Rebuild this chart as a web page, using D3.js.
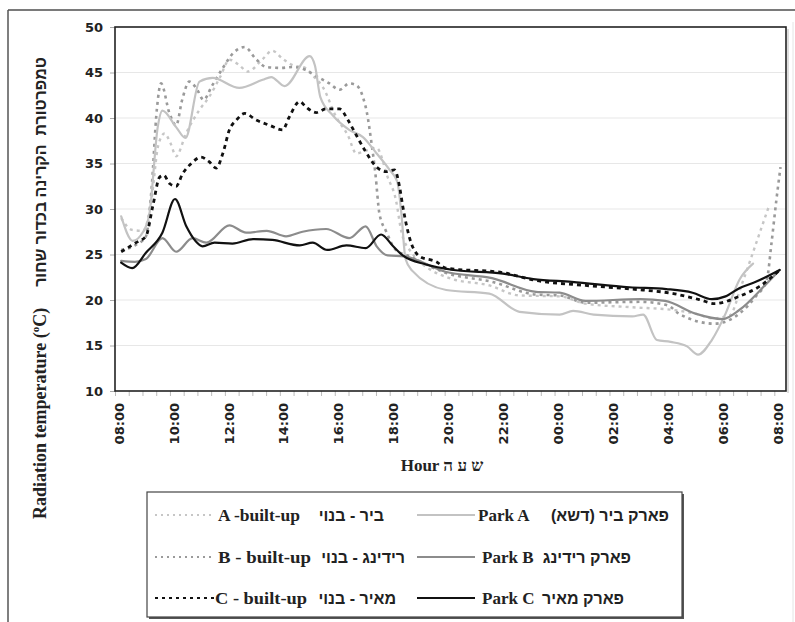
<!DOCTYPE html>
<html>
<head>
<meta charset="utf-8">
<script src="https://cdn.jsdelivr.net/npm/d3@7"></script>
<style>
  html, body { margin: 0; padding: 0; background: #fff; }
  svg { display: block; }
</style>
</head>
<body>
<div id="chart"></div>
<script>
// ---------- DATA ----------
// hours after 08:00 (0 = 08:00, 24 = 08:00 next day), radiation temperature (°C)
const hourTicks  = [0, 2, 4, 6, 8, 10, 12, 14, 16, 18, 20, 22, 24];
const hourLabels = ["08:00","10:00","12:00","14:00","16:00","18:00","20:00","22:00","00:00","02:00","04:00","06:00","08:00"];
const tempTicks  = [10, 15, 20, 25, 30, 35, 40, 45, 50];

const parkA = [[0.1,29.2],[0.52,26.5],[0.9,27.5],[1.13,29.5],[1.43,39.0],[1.6,40.8],[2.1,39.0],[2.44,37.8],[2.95,44.0],[3.43,44.4],[4.4,43.3],[5.25,44.2],[5.56,44.5],[6.05,43.5],[6.96,46.8],[7.15,45.8],[7.35,42.3],[7.8,40.3],[8.4,38.7],[8.9,37.9],[9.4,36.1],[9.87,34.3],[10.15,33.0],[10.3,29.5],[10.45,24.5],[10.7,23.2],[11.93,21.1],[13.5,20.7],[14.6,18.7],[16.06,18.4],[16.55,18.8],[17.3,18.4],[18.7,18.2],[19.1,18.4],[19.6,15.6],[20.1,15.4],[20.7,14.9],[21.1,14.0],[21.6,15.6],[22.1,18.5],[22.6,22.2],[23.1,24.0]];
const parkB = [[0.1,24.3],[0.6,24.2],[1.0,24.5],[1.6,26.8],[2.1,25.3],[2.7,26.8],[3.2,26.3],[4.04,28.2],[4.65,27.4],[5.4,27.6],[6.1,27.0],[6.7,27.5],[7.56,27.8],[8.4,26.8],[9.0,28.1],[9.4,25.9],[9.8,24.9],[10.4,24.8],[11.9,23.1],[13.6,22.4],[15.2,20.9],[16.06,20.8],[17.0,19.9],[19.0,20.1],[19.9,19.9],[21.0,18.5],[22.0,17.9],[22.6,18.9],[23.5,21.5],[24.07,23.3]];
const parkC = [[0.1,24.1],[0.5,23.5],[1.0,25.2],[1.6,27.4],[2.06,31.1],[2.47,28.1],[2.8,26.5],[3.06,25.9],[3.5,26.3],[4.15,26.2],[4.9,26.7],[5.6,26.6],[6.6,26.0],[7.07,26.3],[7.6,25.5],[8.3,26.0],[9.0,25.7],[9.56,27.2],[10.0,25.9],[10.35,24.9],[11.2,23.9],[12.2,23.3],[14.0,22.9],[15.1,22.3],[16.5,22.0],[18.6,21.4],[19.94,21.2],[20.9,20.8],[21.6,20.1],[22.1,20.4],[22.6,21.3],[23.2,22.0],[24.07,23.3]];
const builtA = [[0.1,29.0],[0.5,27.7],[0.9,27.6],[1.2,31.0],[1.45,37.0],[1.68,38.3],[1.9,37.2],[2.1,35.8],[2.46,38.3],[2.95,40.9],[3.3,42.3],[3.7,44.5],[4.04,46.4],[4.4,45.8],[4.7,45.1],[5.26,46.5],[5.6,47.4],[5.98,46.5],[6.35,45.8],[6.8,45.5],[7.1,44.6],[7.44,43.4],[7.93,40.1],[8.35,38.1],[8.66,36.1],[9.0,36.4],[9.4,36.7],[9.8,33.5],[10.1,31.0],[10.3,27.5],[10.6,25.5],[12.05,22.4],[13.5,21.6],[14.6,20.5],[16.06,20.4],[17.0,19.6],[18.7,19.2],[20.2,18.9],[21.0,18.5],[21.6,18.0],[22.25,18.3],[22.7,21.8],[23.3,27.0],[23.7,30.5]];
const builtB = [[0.1,25.5],[0.6,26.0],[1.0,27.0],[1.2,32.0],[1.4,41.0],[1.55,43.8],[1.86,40.5],[2.1,39.2],[2.32,42.0],[2.58,44.0],[2.85,43.2],[3.1,42.0],[3.4,43.5],[3.8,45.5],[4.2,47.2],[4.6,47.8],[5.0,46.5],[5.38,45.6],[5.9,45.5],[6.35,45.6],[6.8,45.3],[7.14,44.7],[7.68,43.8],[8.05,43.1],[8.4,43.8],[8.66,43.6],[8.9,42.3],[9.05,40.5],[9.2,37.5],[9.35,34.0],[9.5,29.5],[9.75,27.5],[10.1,25.5],[10.6,24.8],[11.9,23.0],[13.6,22.0],[15.2,20.6],[16.06,20.5],[17.0,19.7],[19.0,19.8],[20.0,19.4],[20.4,18.5],[21.7,17.4],[22.6,18.5],[23.2,20.4],[23.6,22.2],[23.77,26.2],[23.95,31.0],[24.1,34.6]];
const builtC = [[0.1,25.3],[0.64,26.3],[1.0,27.0],[1.25,30.3],[1.5,33.5],[1.65,33.7],[1.86,32.8],[2.1,32.5],[2.34,33.9],[2.65,35.0],[3.0,35.7],[3.3,35.2],[3.56,34.5],[3.8,36.1],[4.04,38.7],[4.3,39.8],[4.6,40.5],[5.0,39.8],[5.5,39.2],[5.98,38.7],[6.2,40.0],[6.6,41.8],[6.83,41.2],[7.2,40.6],[7.56,41.0],[8.05,41.0],[8.35,39.8],[8.66,38.1],[9.0,36.3],[9.4,34.6],[9.75,34.1],[10.05,34.3],[10.23,32.5],[10.35,30.3],[10.6,26.8],[10.96,24.8],[11.57,24.2],[11.93,23.5],[14.0,23.0],[15.1,22.2],[17.0,21.6],[18.7,21.2],[20.2,20.7],[21.2,20.0],[21.7,19.6],[22.6,20.4],[23.34,21.5],[24.07,23.3]];

const builtLabelsEn = ["A -built-up", "B - built-up", "C - built-up"];
const builtLabelsHe = ["ביר - בנוי", "רידינג - בנוי", "מאיר - בנוי"];
const parkLabelsEn  = ["Park A", "Park B", "Park C"];
const parkLabelsHe  = ["פארק ביר (דשא)", "פארק רידינג", "פארק מאיר"];

// ---------- STYLES ----------
const styles = {
  parkA:  {color:"#c3c3c3", width:2.2, dash:null},
  parkB:  {color:"#8c8c8c", width:2.2, dash:null},
  parkC:  {color:"#111111", width:2.2, dash:null},
  builtA: {color:"#c6c6c6", width:2.4, dash:"3,4"},
  builtB: {color:"#9a9a9a", width:2.6, dash:"3,4"},
  builtC: {color:"#111111", width:2.8, dash:"4,4"}
};

const W = 795, H = 622;
const m = {left:115, right:786, top:27, bottom:391};

const svg = d3.select("#chart").append("svg").attr("width", W).attr("height", H);

// outer frame
svg.append("line").attr("x1",8).attr("x2",795).attr("y1",10).attr("y2",10).attr("stroke","#7a7a7a").attr("stroke-width",2);
svg.append("line").attr("x1",8).attr("x2",8).attr("y1",10).attr("y2",622).attr("stroke","#555").attr("stroke-width",1.5);
svg.append("line").attr("x1",793).attr("x2",793).attr("y1",22).attr("y2",622).attr("stroke","#e4e4e4").attr("stroke-width",1);

const x = d3.scaleLinear().domain([-0.125, 24.3]).range([m.left, m.right]);
const y = d3.scaleLinear().domain([10, 50]).range([m.bottom, m.top]);

// gridlines
svg.append("g").selectAll("line").data(tempTicks.filter(v => v > 10 && v < 50)).join("line")
  .attr("x1", m.left).attr("x2", m.right).attr("y1", d => y(d)).attr("y2", d => y(d))
  .attr("stroke", "#e7e7e7").attr("stroke-width", 1);

// y axis
const yAxis = svg.append("g").attr("transform", `translate(${m.left},0)`)
  .call(d3.axisLeft(y).tickValues(tempTicks).tickSize(5).tickPadding(7));
yAxis.select(".domain").remove();
yAxis.selectAll(".tick line").attr("stroke", "#aaa");
yAxis.selectAll("text").attr("font-family", "'DejaVu Sans', Verdana, sans-serif")
  .attr("font-size", 13).attr("font-weight", "bold").attr("fill", "#222");

// x axis minor ticks
const minor = d3.range(-0.125, 24.3, 0.5);
const xMinor = svg.append("g").attr("transform", `translate(0,${m.bottom})`)
  .call(d3.axisBottom(x).tickValues(minor).tickSize(5).tickFormat(""));
xMinor.select(".domain").remove();
xMinor.selectAll(".tick line").attr("stroke", "#bbb");

// x axis labels
const xAxis = svg.append("g").attr("transform", `translate(0,${m.bottom})`)
  .call(d3.axisBottom(x).tickValues(hourTicks).tickSize(0).tickFormat((d, i) => hourLabels[i]));
xAxis.select(".domain").remove();
xAxis.selectAll("text")
  .attr("transform", "rotate(-90)")
  .attr("x", -12).attr("y", 0).attr("dy", "0.36em")
  .attr("text-anchor", "end")
  .attr("font-family", "'DejaVu Sans', Verdana, sans-serif")
  .attr("font-size", 13).attr("font-weight", "bold").attr("fill", "#222");

// lines
const line = d3.line().x(d => x(d[0])).y(d => y(d[1])).curve(d3.curveMonotoneX);
const series = [
  ["builtA", builtA], ["builtB", builtB], ["parkA", parkA], ["parkB", parkB], ["builtC", builtC], ["parkC", parkC]
];
const clip = svg.append("clipPath").attr("id", "plotclip").append("rect")
  .attr("x", m.left).attr("y", m.top).attr("width", m.right - m.left).attr("height", m.bottom - m.top);
const gl = svg.append("g").attr("clip-path", "url(#plotclip)");
series.forEach(([k, data]) => {
  const s = styles[k];
  gl.append("path").datum(data).attr("d", line)
    .attr("fill", "none").attr("stroke", s.color).attr("stroke-width", s.width)
    .attr("stroke-dasharray", s.dash).attr("stroke-linecap", s.dash ? "butt" : "round")
    .attr("stroke-linejoin", "round");
});

// plot border
svg.append("rect").attr("x", m.right + 1).attr("y", m.top + 2).attr("width", 2).attr("height", m.bottom - m.top)
  .attr("fill", "#ddd");
svg.append("rect").attr("x", m.left).attr("y", m.top).attr("width", m.right - m.left).attr("height", m.bottom - m.top)
  .attr("fill", "none").attr("stroke", "#222").attr("stroke-width", 1.6);

// y title
const yt = svg.append("text").attr("transform", "translate(46,519) rotate(-90)")
  .attr("font-family", "'Liberation Serif', 'Times New Roman', serif").attr("font-weight", "bold")
  .attr("font-size", 18).attr("fill", "#222").attr("text-anchor", "start");
yt.append("tspan").text("Radiation temperature (");
yt.append("tspan").attr("font-size", 11).attr("dy", -7).text("o");
yt.append("tspan").attr("dy", 7).text("C)");
svg.append("text").attr("transform", "translate(46,172) rotate(-90)")
  .attr("font-family", "'Liberation Sans', Arial, sans-serif").attr("font-weight", "bold")
  .attr("font-size", 16).attr("fill", "#222").attr("text-anchor", "middle")
  .text("טמפרטורת  הקרינה בכדור שחור").attr("xml:space", "preserve");

// x title
svg.append("text").attr("x", 442).attr("y", 471).attr("text-anchor", "middle")
  .attr("font-family", "'Liberation Serif', 'Times New Roman', serif").attr("font-weight", "bold")
  .attr("font-size", 17).attr("fill", "#222").text("Hour ש ע ה");

// legend
const lg = svg.append("g");
lg.append("rect").attr("x", 149).attr("y", 494).attr("width", 535).attr("height", 125)
  .attr("fill", "#555");
lg.append("rect").attr("x", 147).attr("y", 492).attr("width", 535).attr("height", 125)
  .attr("fill", "#fff").attr("stroke", "#444").attr("stroke-width", 1.2);
const rowY = [515, 557, 598];
const builtKeys = ["builtA", "builtB", "builtC"];
const parkKeys = ["parkA", "parkB", "parkC"];
const enWidth = [82, 93, 92];
const serif = "'Liberation Serif', 'Times New Roman', serif";
const heFont = "'Liberation Sans', Arial, sans-serif";
rowY.forEach((ry, i) => {
  const sb = styles[builtKeys[i]], sp = styles[parkKeys[i]];
  lg.append("line").attr("x1", 155).attr("x2", i === 2 ? 215 : 212).attr("y1", ry).attr("y2", ry)
    .attr("stroke", sb.color).attr("stroke-width", 2).attr("stroke-dasharray", i === 2 ? "3,4" : "2,4");
  lg.append("text").attr("x", i === 2 ? 215 : 218).attr("y", ry + 6)
    .attr("font-family", serif).attr("font-weight", "bold").attr("font-size", 17).attr("fill", "#222")
    .attr("textLength", enWidth[i]).attr("lengthAdjust", "spacingAndGlyphs")
    .text(builtLabelsEn[i]);
  lg.append("text").attr("x", [384, 405, 396][i]).attr("y", ry + 6)
    .attr("font-family", heFont).attr("font-weight", "bold")
    .attr("font-size", 16).attr("fill", "#222").attr("direction", "rtl")
    .attr("text-anchor", "start")
    .text(builtLabelsHe[i]);
  lg.append("line").attr("x1", 417).attr("x2", 475).attr("y1", ry).attr("y2", ry)
    .attr("stroke", sp.color).attr("stroke-width", 2);
  lg.append("text").attr("x", [478, 482, 482][i]).attr("y", ry + 6)
    .attr("font-family", serif).attr("font-weight", "bold").attr("font-size", 17).attr("fill", "#222")
    .text(parkLabelsEn[i]);
  lg.append("text").attr("x", [669, 631, 624][i]).attr("y", ry + 6)
    .attr("font-family", heFont).attr("font-weight", "bold")
    .attr("font-size", 16).attr("fill", "#222").attr("direction", "rtl").attr("text-anchor", "start")
    .text(parkLabelsHe[i]);
});
</script>
</body>
</html>
